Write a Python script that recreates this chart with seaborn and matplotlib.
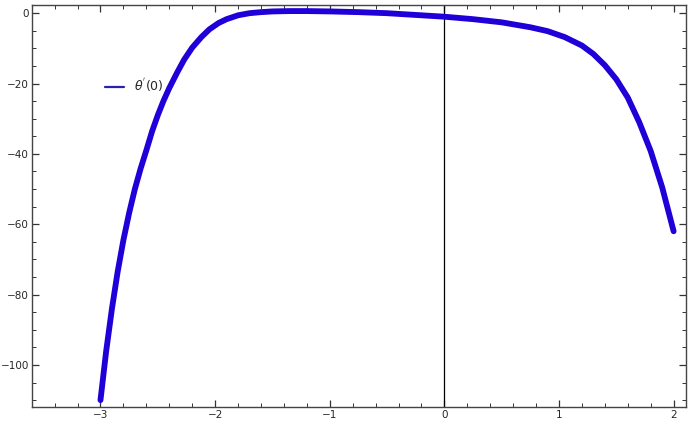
"""Recreation of the theta'(0) curve plot."""

import matplotlib

matplotlib.use("Agg")

import matplotlib.pyplot as plt
import pandas as pd
import seaborn as sns
from matplotlib.ticker import MultipleLocator

# values
x_values = [
    -3.0, -2.95, -2.9, -2.85, -2.8, -2.75, -2.7, -2.65, -2.6, -2.55, -2.5,
    -2.45, -2.4, -2.33, -2.27, -2.2, -2.12, -2.05, -1.97, -1.9, -1.8, -1.7,
    -1.6, -1.5, -1.35, -1.2, -1.0, -0.75, -0.5, -0.25, 0.0, 0.25, 0.5,
    0.75, 0.9, 1.05, 1.2, 1.3, 1.4, 1.5, 1.6, 1.7, 1.8, 1.9, 2.0,
]
y_values = [
    -110.0, -96.0, -84.0, -73.5, -64.5, -56.8, -50.0, -44.2, -39.0, -33.6, -29.0,
    -24.9, -21.3, -16.8, -13.2, -9.8, -6.8, -4.6, -2.8, -1.7, -0.6, 0.0,
    0.3, 0.5, 0.6, 0.6, 0.5, 0.3, 0.0, -0.5, -1.0, -1.7, -2.6,
    -4.0, -5.1, -6.8, -9.2, -11.6, -14.8, -18.8, -24.0, -31.0, -39.2, -49.5, -62.0,
]
series_label = r"$\theta^{'}(0)$"

x_limits = (-3.6, 2.11)
y_limits = (-112.0, 2.3)

df = pd.DataFrame({"x": x_values, "y": y_values})

sns.set_style("ticks")
plt.rcParams["font.family"] = ["DejaVu Sans"]

fig = plt.figure(figsize=(6.89, 4.25), dpi=100)
ax = fig.add_axes([0.046, 0.042, 0.950, 0.946])

ax.axvline(0, color="black", linewidth=0.9, zorder=1)
sns.lineplot(
    data=df,
    x="x",
    y="y",
    color="#1f00d8",
    linewidth=4.2,
    sort=False,
    ax=ax,
    zorder=3,
)

ax.set_xlim(*x_limits)
ax.set_ylim(*y_limits)
ax.set_xlabel("")
ax.set_ylabel("")

ax.xaxis.set_major_locator(MultipleLocator(1))
ax.xaxis.set_minor_locator(MultipleLocator(0.2))
ax.yaxis.set_major_locator(MultipleLocator(20))
ax.yaxis.set_minor_locator(MultipleLocator(5))
ax.tick_params(which="both", direction="in", top=True, right=True, color="#333333", labelsize=7.5, pad=2)
ax.tick_params(which="major", length=5, width=0.9)
ax.tick_params(which="minor", length=3, width=0.7)

for spine in ax.spines.values():
    spine.set_visible(True)
    spine.set_color("#444444")
    spine.set_linewidth(1.0)

legend_line = plt.Line2D([], [], color="#2a1fb0", linewidth=1.6)
ax.legend(
    [legend_line],
    [series_label],
    loc="center left",
    bbox_to_anchor=(0.095, 0.80),
    frameon=False,
    handlelength=1.5,
    fontsize=9,
)

fig.savefig("out.png", dpi=100)
